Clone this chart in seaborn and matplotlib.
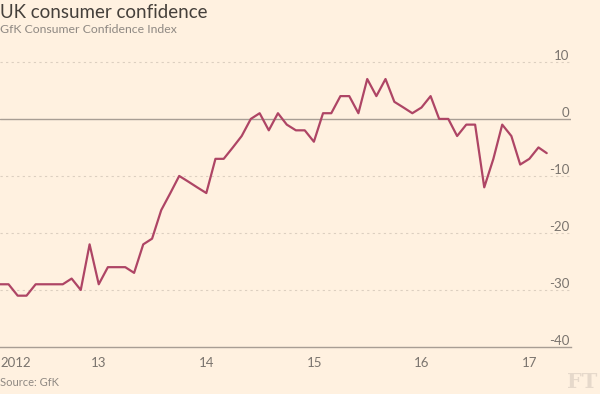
import matplotlib
matplotlib.use('Agg')
import matplotlib.pyplot as plt
import seaborn as sns
import pandas as pd

# GfK Consumer Confidence Index, monthly, Jan 2012 - Feb 2017
months = pd.date_range('2012-01-31', periods=62, freq='ME')
confidence = [
    -29, -29, -31, -31, -29, -29, -29, -29, -28, -30, -22, -29,   # 2012
    -26, -26, -26, -27, -22, -21, -16, -13, -10, -11, -12, -13,   # 2013
    -7, -7, -5, -3, 0, 1, -2, 1, -1, -2, -2, -4,                  # 2014
    1, 1, 4, 4, 1, 7, 4, 7, 3, 2, 1, 2,                           # 2015
    4, 0, 0, -3, -1, -1, -12, -7, -1, -3, -8, -7,                 # 2016
    -5, -6,                                                        # 2017
]
y_ticks = [-40, -30, -20, -10, 0, 10]
year_ticks = ['2013-01-01', '2014-01-01', '2015-01-01', '2016-01-01', '2017-01-01']
year_labels = ['13', '14', '15', '16', '17']

df = pd.DataFrame({'Month': months, 'Index': confidence})

bg = '#fff1e0'
sns.set_theme(style='white')
plt.rcParams['font.family'] = ['Lato', 'DejaVu Sans']

fig = plt.figure(figsize=(6, 3.94), dpi=100, facecolor=bg)
ax = fig.add_axes([0.0, 0.1193, 0.951, 0.767], facecolor=bg)

sns.lineplot(data=df, x='Month', y='Index', color='#ae4565', linewidth=1.6, ax=ax, clip_on=False)

ax.set_ylim(-40, 13)
x_start = months[0]
ax.set_xlim(x_start, pd.Timestamp('2017-05-20'))

# gridlines
for v in y_ticks:
    if v == 0:
        ax.axhline(v, color='#a89e94', linewidth=1, zorder=1)
    elif v != -40:
        ax.axhline(v, color='#dccfc0', linewidth=0.8, linestyle=(0, (2, 3)), zorder=1)

# y labels on the right, inside, above gridlines
ax.yaxis.tick_right()
ax.set_yticks(y_ticks)
ax.set_yticklabels([str(v) for v in y_ticks])
ax.tick_params(axis='y', length=0, pad=-1, labelsize=9.5, labelcolor='#7a746e')
for t in ax.get_yticklabels():
    t.set_ha('right')
    t.set_va('bottom')

# x axis
xt = [x_start] + [pd.Timestamp(d) for d in year_ticks]
ax.set_xticks(xt)
ax.set_xticklabels(['2012'] + year_labels)
ax.tick_params(axis='x', direction='out', length=5, width=0.9, color='#a89e94',
               labelsize=9.5, labelcolor='#7a746e', pad=2)
ax.get_xticklabels()[0].set_ha('left')

for s in ['top', 'left', 'right']:
    ax.spines[s].set_visible(False)
ax.spines['bottom'].set_color('#a89e94')
ax.spines['bottom'].set_linewidth(1)
ax.set_xlabel('')
ax.set_ylabel('')

fig.text(0.0, 0.99, 'UK consumer confidence', fontsize=13.5,
         color='#45403b', va='top', ha='left')
fig.text(0.0, 0.938, 'GfK Consumer Confidence Index', fontsize=8.8,
         color='#8f8983', va='top', ha='left')
fig.text(0.0, 0.042, 'Source: GfK', fontsize=8, color='#8f8983', va='top', ha='left')
fig.text(0.995, 0.005, 'FT', fontsize=15, color='#e6d9cb', fontfamily='DejaVu Serif',
         fontweight='bold', va='bottom', ha='right')

fig.savefig('out.png', dpi=100, facecolor=bg)
